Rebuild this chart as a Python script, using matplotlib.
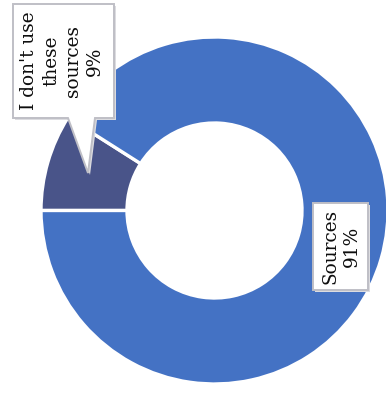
import matplotlib
matplotlib.use("Agg")
import matplotlib.pyplot as plt
from matplotlib.patches import Polygon

# Data
categories = ["I don't use\nthese\nsources", "Sources"]
values = [9, 91]
colors = ["#495489", "#4472C4"]

W, H = 386, 401
fig = plt.figure(figsize=(W / 100, H / 100), dpi=100)
ax = fig.add_axes([0, 0, 1, 1])

def py(y):
    # top-down y to data y
    return H - y

cx, cy, R = 214.5, py(210.5), 173.5
wedges, _ = ax.pie(values, colors=colors, startangle=180, counterclock=False,
                   center=(cx, cy), radius=R,
                   wedgeprops=dict(width=R - 87.5, edgecolor="white", linewidth=2.4))

ax.set_xlim(0, W)
ax.set_ylim(0, H)
ax.set_aspect("equal")
ax.axis("off")

font = dict(family="DejaVu Serif", size=13.3, color="#0d0d0d", linespacing=1.27)
border = "#BFBFC6"
shadow = "#DCDCE0"

def callout(pts, shadow_off=2):
    sh = Polygon([(x + shadow_off, py(y) - shadow_off) for x, y in pts], closed=True,
                 facecolor=shadow, edgecolor="none", zorder=4)
    ax.add_patch(sh)
    poly = Polygon([(x, py(y)) for x, y in pts], closed=True,
                   facecolor="white", edgecolor=border, linewidth=1.4, zorder=5)
    ax.add_patch(poly)

# Callout for the small slice
callout([(13, 4), (114, 4), (114, 118), (95, 118), (88, 173), (68, 118), (13, 118)])
ax.text(62, py(61), f"{categories[0]}\n{values[0]}%", rotation=90,
        ha="center", va="center", multialignment="center", zorder=6, **font)

# Label box for the main slice
callout([(313, 203), (368, 203), (368, 290), (313, 290)])
ax.text(341, py(246.5), f"{categories[1]}\n{values[1]}%", rotation=90,
        ha="center", va="center", multialignment="center", zorder=6, **font)

fig.savefig("out.png", dpi=100)
